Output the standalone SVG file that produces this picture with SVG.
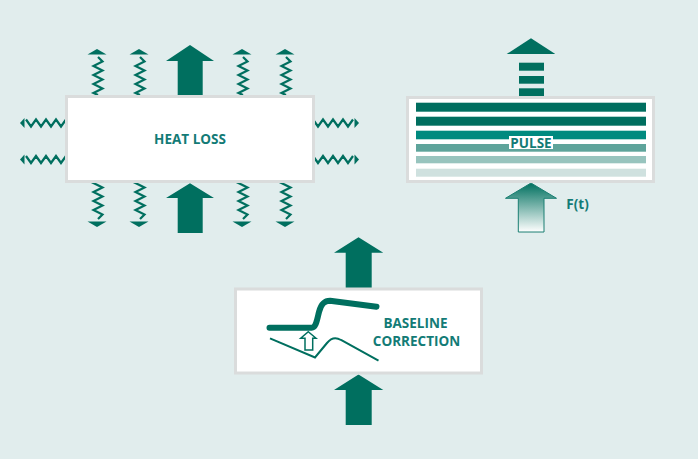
<svg xmlns="http://www.w3.org/2000/svg" xmlns:xlink="http://www.w3.org/1999/xlink" width="698" height="459" viewBox="0 0 698 459">
<style>
.bg{fill:#e1eded}
.box{fill:#fff;stroke:#dadcdc;stroke-width:3}
.dk{fill:#006f5f}
.zz{fill:none;stroke:#006f5f;stroke-width:2.2}
.lbl{font-family:"Open Sans","Liberation Sans",sans-serif;font-weight:bold;font-size:13.5px;fill:#137b76;text-anchor:middle}
</style>
<defs>
<g id="vz">
<path d="M0,0 L9.5,5.5 L-9.5,5.5 Z" class="dk"/>
<path class="zz" d="M1,8 L5.5,12.5 L-3.5,17 L5.5,21.5 L-3.5,26 L5.5,30.5 L-3.5,35 L5.5,39.5 L-3.5,44 L1,46"/>
</g>
<g id="hz">
<path d="M0,0 L4.5,-5 L4.5,5 Z" class="dk"/>
<path class="zz" d="M6,-3.5 L11,3.5 L16,-3.5 L21,3.5 L26,-3.5 L31,3.5 L36,-3.5 L41,3.5 L46,-3.5"/>
</g>
<linearGradient id="gr" x1="0" y1="0" x2="0" y2="1">
<stop offset="0" stop-color="#00705f"/>
<stop offset="1" stop-color="#ffffff"/>
</linearGradient>
</defs>
<rect class="bg" width="698" height="459"/>

<g id="connectors">
<path class="dk" d="M190,45 L214,61 L202.7,61 L202.7,96 L177.7,96 L177.7,61 L166,61 Z"/>
<path class="dk" d="M190,183.3 L214,198 L202.7,198 L202.7,233 L177.7,233 L177.7,198 L166,198 Z"/>
<use xlink:href="#vz" transform="translate(97,49)"/>
<use xlink:href="#vz" transform="translate(139,49)"/>
<use xlink:href="#vz" transform="translate(242,49)"/>
<use xlink:href="#vz" transform="translate(285,49)"/>
<use xlink:href="#vz" transform="translate(97,227) scale(1,-1)"/>
<use xlink:href="#vz" transform="translate(139,227) scale(1,-1)"/>
<use xlink:href="#vz" transform="translate(242,227) scale(1,-1)"/>
<use xlink:href="#vz" transform="translate(285,227) scale(1,-1)"/>
<use xlink:href="#hz" transform="translate(20,123)"/>
<use xlink:href="#hz" transform="translate(20,159.5)"/>
<use xlink:href="#hz" transform="translate(359,123) scale(-1,1)"/>
<use xlink:href="#hz" transform="translate(359,159.5) scale(-1,1)"/>

<path class="dk" d="M531,38.3 L555.3,54 L506.7,54 Z"/>
<rect class="dk" x="519" y="62.7" width="25" height="8"/>
<rect class="dk" x="519" y="76" width="25" height="7.7"/>
<rect class="dk" x="519" y="88.3" width="25" height="8"/>
<path d="M531,183 L556.5,198.3 L544,198.3 L544,232 L518.3,232 L518.3,198.3 L505.5,198.3 Z" fill="url(#gr)" stroke="#1a7f72" stroke-width="1"/>

<path class="dk" d="M358.5,237.3 L383.3,252.7 L371.7,252.7 L371.7,289 L345.7,289 L345.7,252.7 L334,252.7 Z"/>
<path class="dk" d="M358.5,374.5 L383.3,390 L371.7,390 L371.7,425 L345.7,425 L345.7,390 L334,390 Z"/>
</g>

<g id="heat-loss">
<rect class="box" x="66.5" y="96.5" width="247" height="85"/>
<text class="lbl" x="190" y="144">HEAT LOSS</text>
</g>

<g id="pulse">
<rect class="box" x="407.5" y="97.5" width="246" height="84"/>
<rect x="416" y="102.7" width="230" height="9" fill="#006e5f"/>
<rect x="416" y="116.7" width="230" height="9" fill="#006e5f"/>
<rect x="416" y="130.7" width="230" height="8.6" fill="#008a7f"/>
<rect x="416" y="144" width="230" height="7.7" fill="#5ea49b"/>
<rect x="416" y="156" width="230" height="7.3" fill="#98c4be"/>
<rect x="416" y="168.7" width="230" height="8" fill="#cfe1df"/>
<rect x="509" y="136" width="44" height="13" fill="#fff"/>
<text class="lbl" x="531" y="147.5">PULSE</text>
</g>

<g id="ft">
<text class="lbl" x="577.5" y="209">F(t)</text>
</g>

<g id="baseline-correction">
<rect class="box" x="235.5" y="289" width="246" height="84"/>
<path d="M269.5,327.7 L311.7,327.7 C316,327.7 317,320 319,312 C321,304 324,300.7 330,300.7 L376.5,306.7" fill="none" stroke="#006f5f" stroke-width="6" stroke-linecap="round" stroke-linejoin="round"/>
<path d="M270,338.3 L315,357.5 L327,343 C331,338 336,337 341,340 L378.5,360.7" fill="none" stroke="#006f5f" stroke-width="2"/>
<path d="M308.3,331.7 L316,338.3 L312.7,338.3 L312.7,350 L305,350 L305,338.3 L300.7,338.3 Z" fill="#fff" stroke="#006f5f" stroke-width="1.5" stroke-linejoin="miter"/>
<text class="lbl" x="415.5" y="328">BASELINE</text>
<text class="lbl" x="416.5" y="345.5">CORRECTION</text>
</g>
</svg>
